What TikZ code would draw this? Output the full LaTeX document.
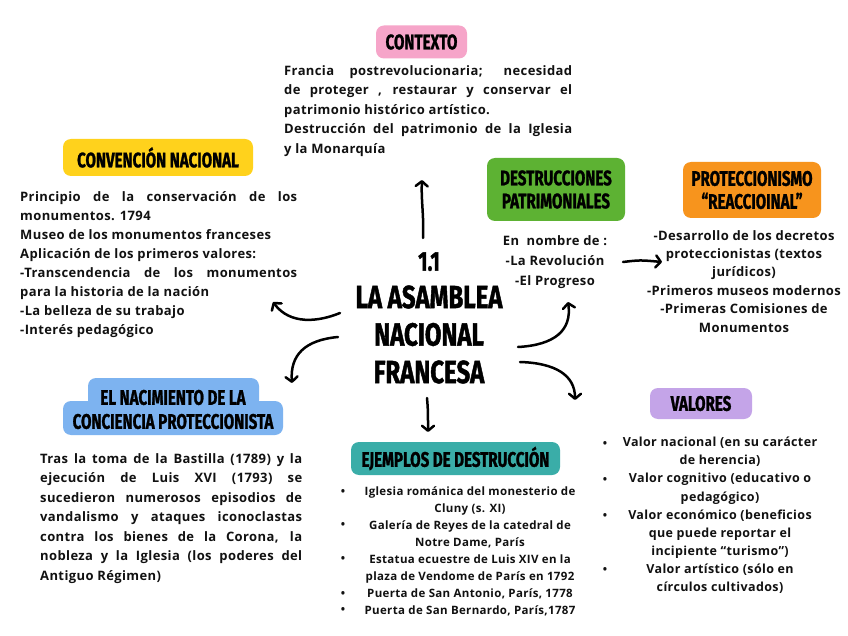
\documentclass[tikz,border=0pt]{standalone}
\usepackage{fontspec}
\setmainfont[LetterSpace=3]{Open Sans}
\newfontfamily\hand[FakeStretch=0.72,FakeBold=1.2]{Fira Sans}
\newfontfamily\handc[FakeStretch=0.75,FakeBold=1.3]{Fira Sans}
\usetikzlibrary{arrows.meta}
\definecolor{cpink}{HTML}{F6A5C9}
\definecolor{cyellow}{HTML}{FFD21C}
\definecolor{cgreen}{HTML}{5DB233}
\definecolor{corange}{HTML}{F7941D}
\definecolor{cblue}{HTML}{7DB3F0}
\definecolor{cteal}{HTML}{3AADA8}
\definecolor{cpurple}{HTML}{C4A4E8}
\definecolor{ctext}{HTML}{111111}
\begin{document}
\begin{tikzpicture}[x=1pt,y=-1pt,
  tbox/.style={fill=#1, rounded corners=8pt, inner sep=0pt, align=center,
    text=black, font=\hand\bfseries\fontsize{21}{23}\selectfont},
  body/.style={inner sep=0pt, text=ctext, font=\bfseries\fontsize{13}{19.5}\selectfont},
  small/.style={inner sep=0pt, text=ctext, font=\bfseries\fontsize{11.5}{17}\selectfont},
  bul/.style={inner sep=0pt, text=ctext, anchor=base, font=\bfseries\fontsize{11.5}{17}\selectfont},
  arr/.style={line width=2.5pt, line cap=round, draw=black,
    -{Straight Barb[length=5pt,width=12pt,line join=round,line cap=round]}}]
\useasboundingbox[fill=white] (0,0) rectangle (848,636);

% central title
\node[inner sep=0pt, align=center, font=\handc\bfseries\fontsize{32}{37.5}\selectfont] (main) at (429,318)
  {{\fontsize{27}{37.5}\selectfont 1.1}\\LA ASAMBLEA\\NACIONAL\\FRANCESA};

% CONTEXTO
\node[tbox=cpink, minimum width=91, minimum height=33] (ctxh) at (421.5,42) {CONTEXTO};
\node[body, text width=288, align=justify, anchor=north west] (ctx) at (284,65)
 {Francia postrevolucionaria; necesidad\linebreak de proteger , restaurar y conservar el\linebreak patrimonio histórico artístico.\par
  Destrucción del patrimonio de la Iglesia\linebreak y la Monarquía};

% CONVENCION NACIONAL
\node[tbox=cyellow, minimum width=190, minimum height=37] (convh) at (158,157.5) {CONVENCIÓN NACIONAL};
\node[body, text width=277, font=\bfseries\fontsize{13}{19}\selectfont, align=justify, anchor=north west] (conv) at (20,191)
 {Principio de la conservación de los\linebreak monumentos. 1794\par
  Museo de los monumentos franceses\par
  Aplicación de los primeros valores:\par
  -Transcendencia de los monumentos\linebreak para la historia de la nación\par
  -La belleza de su trabajo\par
  -Interés pedagógico};

% DESTRUCCIONES PATRIMONIALES
\node[tbox=cgreen, minimum width=138, minimum height=63] (desth) at (556,189.5) {DESTRUCCIONES\\PATRIMONIALES};
\node[body, align=center, font=\bfseries\fontsize{13}{20}\selectfont, anchor=north] (dest) at (555,235)
 {En \ nombre de :\\-La Revolución\\-El Progreso};

% PROTECCIONISMO
\node[tbox=corange, minimum width=138, minimum height=56] (proth) at (752,190) {PROTECCIONISMO\\“REACCIOINAL”};
\node[body, align=center, font=\bfseries\fontsize{13}{18.4}\selectfont, anchor=north] (prot) at (744,230)
 {-Desarrollo de los decretos\\proteccionistas (textos\\jurídicos)\\-Primeros museos modernos\\-Primeras Comisiones de\\Monumentos};

% EL NACIMIENTO
\fill[cblue, rounded corners=8pt] (88,378) rectangle (259,408);
\fill[cblue, rounded corners=8pt] (63,401) rectangle (283,435);
\node[inner sep=0pt, align=center, font=\hand\bfseries\fontsize{21}{24}\selectfont] (nacih) at (173,409.5)
 {EL NACIMIENTO DE LA\\CONCIENCIA PROTECCIONISTA};
\node[body, text width=262, align=justify, anchor=north west] (naci) at (40,453)
 {Tras la toma de la Bastilla (1789) y la\linebreak ejecución de Luis XVI (1793) se\linebreak sucedieron numerosos episodios de\linebreak vandalismo y ataques iconoclastas\linebreak contra los bienes de la Corona, la\linebreak nobleza y la Iglesia (los poderes del\linebreak Antiguo Régimen)};

% EJEMPLOS
\node[tbox=cteal, minimum width=209, minimum height=33] (ejeh) at (455.5,458.5) {EJEMPLOS DE DESTRUCCIÓN};
\node[small, align=center, anchor=north] (eje) at (470,486)
 {Iglesia románica del monesterio de\\Cluny (s. XI)\\Galería de Reyes de la catedral de\\Notre Dame, París\\Estatua ecuestre de Luis XIV en la\\plaza de Vendome de París en 1792\\Puerta de San Antonio, París, 1778\\Puerta de San Bernardo, París,1787};
\node[bul] (e1) at (343,495) {•};
\node[bul] (e2) at (343,528) {•};
\node[bul] (e3) at (343,562) {•};
\node[bul] (e4) at (343,597) {•};
\node[bul] (e5) at (343,613) {•};

% VALORES
\node[tbox=cpurple, minimum width=102, minimum height=31] (valh) at (701,403.5) {VALORES};
\node[small, align=center, font=\bfseries\fontsize{12.5}{18.1}\selectfont, anchor=north] (val) at (720,437)
 {Valor nacional (en su carácter\\de herencia)\\Valor cognitivo (educativo o\\pedagógico)\\Valor económico (beneficios\\que puede reportar el\\incipiente “turismo”)\\Valor artístico (sólo en\\círculos cultivados)};
\node[bul] (v1) at (605,447) {•};
\node[bul] (v2) at (605,483) {•};
\node[bul] (v3) at (605,519) {•};
\node[bul] (v4) at (605,573) {•};

% arrows
\coordinate (a1s) at (423,238); \coordinate (a1e) at (422,180);
\coordinate (a2s) at (340,313); \coordinate (a2e) at (273,302);
\coordinate (a3s) at (338,337); \coordinate (a3e) at (292,383);
\coordinate (a4s) at (427,398); \coordinate (a4e) at (428,432);
\coordinate (a5s) at (518,347); \coordinate (a5e) at (568,302);
\coordinate (a6s) at (520,362); \coordinate (a6e) at (575,400);
\coordinate (a7s) at (623,262); \coordinate (a7e) at (662,262);
\draw[arr] (a1s) .. controls (424,215) and (421,200) .. (a1e);
\draw[arr] (a2s) .. controls (318,322) and (290,325) .. (a2e);
\draw[arr] (a3s) .. controls (305,340) and (290,355) .. (a3e);
\draw[arr] (a4s) .. controls (428,410) .. (a4e);
\draw[arr] (a5s) .. controls (555,345) and (572,330) .. (a5e);
\draw[arr] (a6s) .. controls (555,363) and (575,375) .. (a6e);
\draw[arr] (a7s) .. controls (640,260) .. (a7e);
\end{tikzpicture}
\end{document}
